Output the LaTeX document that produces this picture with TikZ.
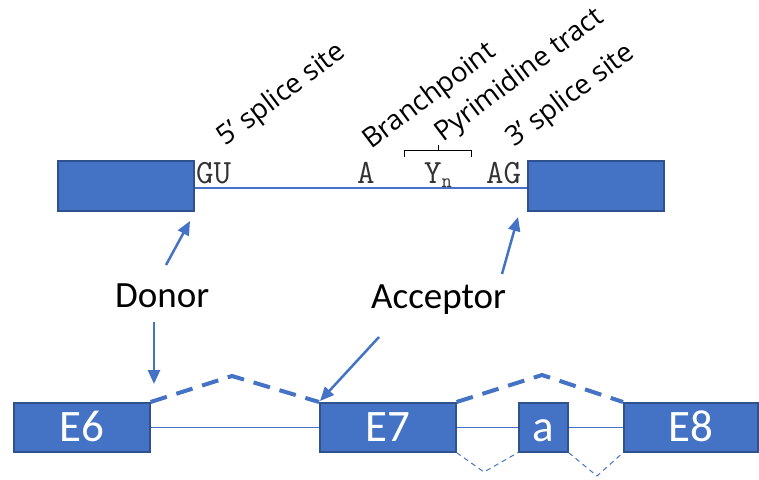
\documentclass[tikz,border=0pt]{standalone}
\usepackage{fontspec}
\setmainfont{Carlito}
\newfontfamily\labfnt{Open Sans}
\usetikzlibrary{arrows.meta}
\definecolor{exfill}{HTML}{4472C4}
\definecolor{exedge}{HTML}{2F528F}
\begin{document}
\begin{tikzpicture}[x=1pt,y=-1pt,
  exon/.style={draw=exedge, fill=exfill, line width=1.6pt, inner sep=0pt, anchor=north west,
    text=white, font=\fontsize{45}{45}\selectfont, text height=29pt, text depth=0pt},
  intron/.style={draw=exfill, line width=1.5pt},
  skipdash/.style={draw=exfill, line width=4pt, dash pattern=on 17pt off 10pt},
  altdash/.style={draw=exfill, line width=1pt, dash pattern=on 5pt off 4pt},
  arr/.style={draw=exfill, line width=2.5pt, -{Triangle[length=14pt,width=12pt]}},
  seq/.style={anchor=base west, inner sep=0pt, font=\ttfamily\fontsize{34}{34}\selectfont, text=black!80},
  rlab/.style={anchor=base west, inner sep=0pt, rotate=37, font=\labfnt\fontsize{27.5}{27.5}\selectfont},
  big/.style={anchor=base west, inner sep=0pt, font=\fontsize{37}{37}\selectfont},
  brace/.style={draw=black, line width=1pt}]
\useasboundingbox (0,0) rectangle (759,479);
% top pre-mRNA
\node[exon, minimum width=136pt, minimum height=50pt] (T1) at (57,160) {};
\node[exon, minimum width=136pt, minimum height=50pt] (T2) at (527,160) {};
\draw[intron] ([yshift=-2pt]T1.east) -- ([yshift=-2pt]T2.west);
\node[seq] (gu) at (196,183) {GU};
\node[seq] (bpA) at (357,183) {A};
\node[seq] (yn) at (424,183) {Y\raisebox{-4pt}{\fontsize{20}{20}\selectfont n}};
\node[seq] (ag) at (486,183) {AG};
% labels
\node[rlab] (l5) at (225,147) {5’ splice site};
\node[rlab] (lbp) at (371,150) {Branchpoint};
\node[rlab] (lpy) at (443,143) {Pyrimidine tract};
\node[rlab] (l3) at (514,148) {3’ splice site};
\coordinate (bl) at (404,157); \coordinate (br) at (471,157);
\coordinate (bm) at (438,150);
\draw[brace] (bl) -- (bl |- bm) -- (br |- bm) -- (br);
\draw[brace] (bm) -- ++(0,-5);
% donor / acceptor
\node[big] (donor) at (115,307) {Donor};
\node[big] (acc) at (371,308) {Acceptor};
\coordinate (d1s) at (166,265); \coordinate (d1e) at (190,221);
\coordinate (a1s) at (502,274); \coordinate (a1e) at (518,217);
\coordinate (d2s) at (154,322); \coordinate (d2e) at (154,384);
\coordinate (a2s) at (379,337); \coordinate (a2e) at (320,401);
\draw[arr] (d1s) -- (d1e);
\draw[arr] (a1s) -- (a1e);
\draw[arr] (d2s) -- (d2e);
\draw[arr] (a2s) -- (a2e);
% bottom exons
\node[exon, minimum width=136pt, minimum height=49pt] (E6) at (13,402) {E6};
\node[exon, minimum width=136pt, minimum height=49pt] (E7) at (319,402) {E7};
\node[exon, minimum width=49pt, minimum height=49pt] (Ea) at (518,402) {a};
\node[exon, minimum width=134pt, minimum height=49pt] (E8) at (623,402) {E8};
\draw[intron] (E6.east) -- (E7.west);
\draw[intron] (E7.east) -- (Ea.west);
\draw[intron] (Ea.east) -- (E8.west);
\coordinate (p1) at (232,376);
\coordinate (p2) at (542,375);
\coordinate (q1) at (484,472);
\coordinate (q2) at (597,476);
\draw[skipdash] (E6.north east) -- (p1) -- (E7.north west);
\draw[skipdash] (E7.north east) -- (p2) -- (E8.north west);
\draw[altdash] (E7.south east) -- (q1) -- (Ea.south west);
\draw[altdash] (Ea.south east) -- (q2) -- (E8.south west);
\end{tikzpicture}
\end{document}
